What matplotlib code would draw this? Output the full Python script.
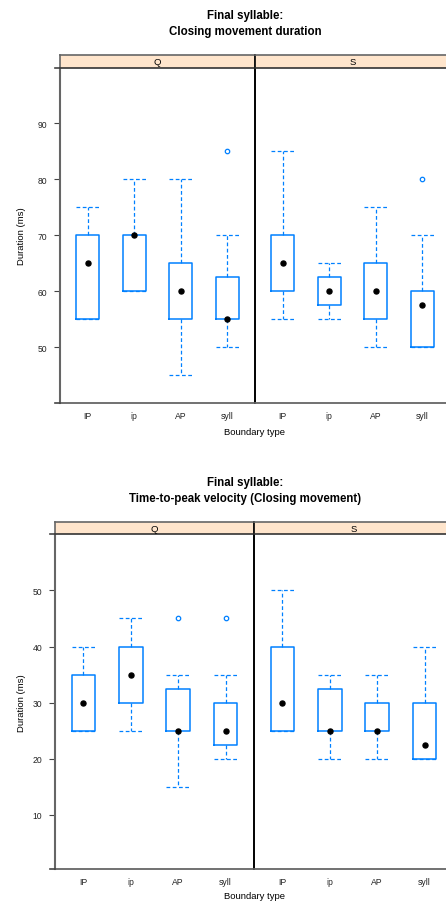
import matplotlib
matplotlib.use('Agg')
import matplotlib.pyplot as plt
from matplotlib.lines import Line2D

plt.rcParams['font.family'] = ['Liberation Sans', 'DejaVu Sans']

W, H = 446, 904
BLUE = '#0080ff'
STRIP = '#ffe5cc'

categories = ['IP', 'ip', 'AP', 'syll']
groups = ['Q', 'S']

# closing movement duration: (whislo, q1, med, q3, whishi, outliers)
dur = {
    'Q': [(55, 55, 65, 70, 75, []),
          (60, 60, 70, 70, 80, []),
          (45, 55, 60, 65, 80, []),
          (50, 55, 55, 62.5, 70, [85])],
    'S': [(55, 60, 65, 70, 85, []),
          (55, 57.5, 60, 62.5, 65, []),
          (50, 55, 60, 65, 75, []),
          (50, 50, 57.5, 60, 70, [80])],
}

# time-to-peak velocity
tpv = {
    'Q': [(25, 25, 30, 35, 40, []),
          (25, 30, 35, 40, 45, []),
          (15, 25, 25, 32.5, 35, [45]),
          (20, 22.5, 25, 30, 35, [45])],
    'S': [(25, 25, 30, 40, 50, []),
          (20, 25, 25, 32.5, 35, []),
          (20, 25, 25, 30, 35, []),
          (20, 20, 22.5, 30, 40, [])],
}

fig = plt.figure(figsize=(W / 100, H / 100), dpi=100)


def px_axes(x0, y0, x1, y1):
    # pixel box (top-left origin) -> figure axes
    return fig.add_axes([x0 / W, 1 - y1 / H, (x1 - x0) / W, (y1 - y0) / H])


def draw_chart(data, title, ylim, yticks, left, pw, strip_top, strip_bot,
               panel_bot, title_y, xlab_y, ylab_x):
    for i, g in enumerate(groups):
        x0 = left + i * pw
        ax = px_axes(x0, strip_bot, x0 + pw, panel_bot)
        stats = []
        for c, (lo, q1, med, q3, hi, fl) in zip(categories, data[g]):
            stats.append(dict(label=c, whislo=lo, q1=q1, med=med, q3=q3,
                              whishi=hi, fliers=fl))
        pos = list(range(1, len(categories) + 1))
        ax.bxp(stats, positions=pos, widths=0.5, capwidths=0.5,
               showfliers=True,
               boxprops=dict(color=BLUE, lw=1.1),
               whiskerprops=dict(color=BLUE, lw=0.9, ls=(0, (3, 2))),
               capprops=dict(color=BLUE, lw=0.9, ls=(0, (3, 2))),
               medianprops=dict(lw=0),
               flierprops=dict(marker='o', markersize=3.2, mfc='none',
                               mec=BLUE, mew=0.9))
        ax.scatter(pos, [s['med'] for s in stats], s=13, color='black',
                   zorder=5)
        ax.set_xlim(0.4, 4.6)
        ax.set_ylim(*ylim)
        ax.set_xticks(pos)
        ax.set_xticklabels(categories, fontsize=6.2, color='#222222')
        ax.tick_params(axis='x', length=0, pad=5.5)
        for sp in ['top', 'right']:
            ax.spines[sp].set_visible(False)
        ax.spines['bottom'].set_color('#666666')
        ax.spines['bottom'].set_linewidth(1.3)
        if i == 0:
            ax.set_yticks(yticks)
            ax.set_yticklabels([str(t) for t in yticks], fontsize=6.2,
                               color='#222222')
            ax.tick_params(axis='y', length=4, width=0.8, color='#444444',
                           pad=5)
            ax.spines['left'].set_color('#666666')
            ax.spines['left'].set_linewidth(1.5)
        else:
            ax.set_yticks([])
            ax.spines['left'].set_color('black')
            ax.spines['left'].set_linewidth(1.4)

        sax = px_axes(x0, strip_top, x0 + pw, strip_bot)
        sax.set_facecolor(STRIP)
        sax.set_xticks([])
        sax.set_yticks([])
        for sp in sax.spines.values():
            sp.set_color('#666666')
            sp.set_linewidth(1.2)
        sax.spines['bottom'].set_color('#333333')
        if i == 1:
            sax.spines['left'].set_color('black')
        sax.text(0.5, 0.45, g, ha='center', va='center', fontsize=6.8,
                 transform=sax.transAxes)

    # small extension lines at the left of the strip bottom and x axis
    for yy in (strip_bot, panel_bot):
        fig.add_artist(Line2D([(left - 5) / W, left / W],
                              [1 - yy / H, 1 - yy / H],
                              color='#444444', lw=1.2))

    mid_y = (strip_bot + panel_bot) / 2
    fig.text(ylab_x / W, 1 - mid_y / H, 'Duration (ms)', rotation=90,
             ha='center', va='center', fontsize=6.8)
    fig.text(0.55, 1 - title_y / H, title, ha='center', va='center',
             fontsize=8.3, fontweight='bold', linespacing=1.4)
    fig.text((left + pw) / W, 1 - xlab_y / H, 'Boundary type', ha='center',
             va='center', fontsize=6.8)


draw_chart(dur, 'Final syllable:\nClosing movement duration',
           (40, 99.9), [50, 60, 70, 80, 90],
           left=60, pw=195, strip_top=55.7, strip_bot=68.7, panel_bot=404.3,
           title_y=24, xlab_y=433, ylab_x=21)

draw_chart(tpv, 'Final syllable:\nTime-to-peak velocity (Closing movement)',
           (0.3, 60), [10, 20, 30, 40, 50],
           left=55, pw=199, strip_top=523.3, strip_bot=535.3, panel_bot=870.3,
           title_y=491, xlab_y=897, ylab_x=21)

fig.savefig('out.png', dpi=100)
